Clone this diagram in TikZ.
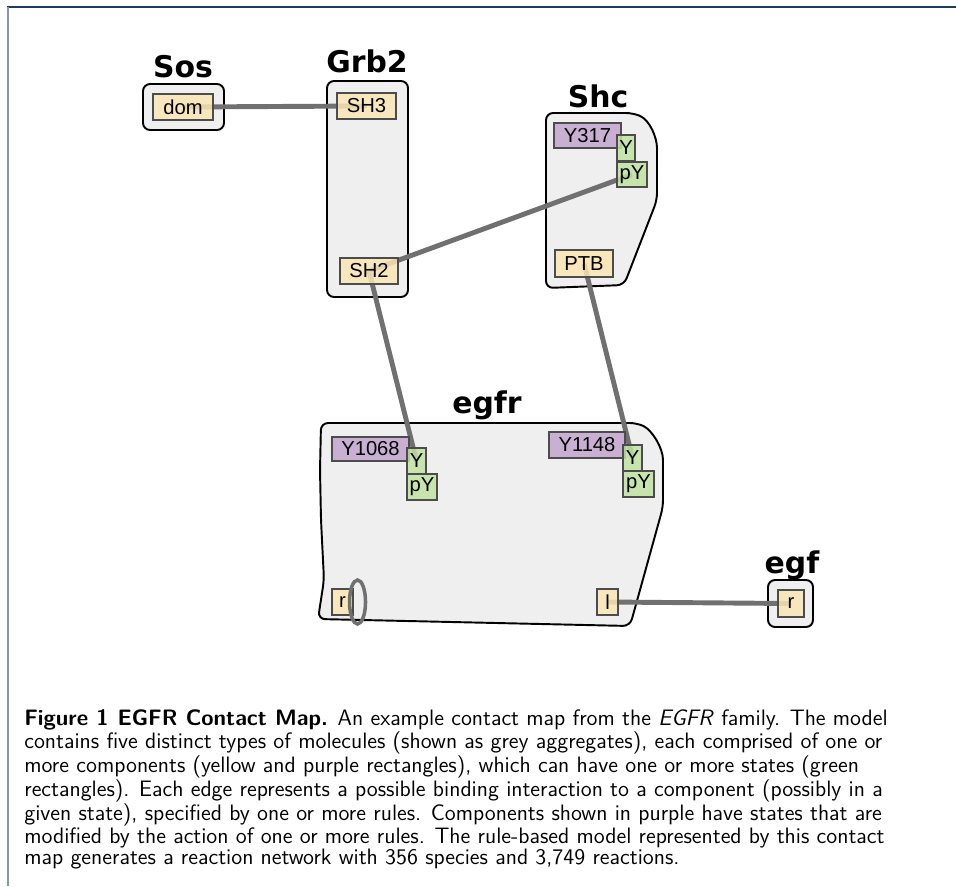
\documentclass[tikz,border=0pt]{standalone}
\usepackage{fontspec}
\newfontfamily\molfont{DejaVu Sans}
\newfontfamily\compfont{Liberation Sans}
\usetikzlibrary{backgrounds}
\pgfdeclarelayer{edgelayer}
\pgfsetlayers{background,edgelayer,main}
\definecolor{molgray}{HTML}{EFEFEF}
\definecolor{compyellow}{HTML}{FAE6B4}
\definecolor{comppurple}{HTML}{C3A6CF}
\definecolor{stategreen}{HTML}{BFE3A0}
\definecolor{edgegray}{HTML}{707070}
\definecolor{framedark}{HTML}{1F3A5F}
\definecolor{framelight}{HTML}{8497AE}

\tikzset{
  mol/.style={draw=black, line width=1.1pt, fill=molgray, rounded corners=4pt},
  molname/.style={font=\molfont\bfseries\fontsize{17pt}{20pt}\selectfont, anchor=base, inner sep=0pt},
  comp/.style={draw=black!70, line width=0.6pt, fill=compyellow, fill opacity=0.85, text opacity=1,
    font=\compfont\fontsize{11.5pt}{13pt}\selectfont, inner sep=0pt, minimum height=0.52cm},
  modcomp/.style={comp, fill=comppurple},
  state/.style={comp, fill=stategreen},
  bond/.style={edgegray, line width=2.8pt},
}

\begin{document}
\begin{tikzpicture}[x=0.02cm, y=-0.02cm]
    \useasboundingbox (0,0) rectangle (956,886);
    % Marco
    \draw[framedark, line width=1.2pt] (7,7) -- (956,7);
    \draw[framelight, line width=1.2pt] (8,7) -- (8,886);

    % Moleculas
    \begin{pgfonlayer}{background}
    \draw[mol] (143,84) rectangle (224,130);
    \draw[mol] (327,81) rectangle (408,297);
    \draw[mol] (546,150) -- (546,113) -- (633,113)
        .. controls (650,120) and (657,138) .. (657,155) -- (657,200)
        -- (624,285) -- (546,288) -- cycle;
    \draw[mol] (320,470) -- (321,423) -- (637,423)
        .. controls (652,430) and (663,448) .. (663,467) -- (663,507)
        -- (630,626) -- (318,619) -- (324,580) -- (321,520) -- cycle;
    \draw[mol] (768,580) rectangle (813,627);
    \end{pgfonlayer}

    % Nombres
    \node[molname] (sos) at (183,77) {Sos};
    \node[molname] (grb2) at (367,72) {Grb2};
    \node[molname] (shc) at (598,107) {Shc};
    \node[molname] (egfr) at (487,413) {egfr};
    \node[molname] (egf) at (792,573) {egf};

    % Componentes y estados
    \node[comp, minimum width=1.2cm] (dom) at (183,107) {dom};
    \node[comp, minimum width=1.18cm] (sh3) at (366.5,106) {SH3};
    \node[comp, minimum width=1.16cm] (sh2) at (369,271) {SH2};
    \node[modcomp, minimum width=1.34cm, minimum height=0.5cm] (y317) at (587.5,135.5) {Y317};
    \node[state, minimum width=0.36cm] (y317y) at (626,148) {Y};
    \node[state, minimum width=0.6cm, minimum height=0.5cm] (y317py) at (632,174.5) {pY};
    \node[comp, minimum width=1.16cm, minimum height=0.54cm] (ptb) at (584,263.5) {PTB};
    \node[modcomp, minimum width=1.54cm, minimum height=0.48cm] (y1068) at (370.5,449) {Y1068};
    \node[state, minimum width=0.38cm] (y1068y) at (416.5,461) {Y};
    \node[state, minimum width=0.6cm] (y1068py) at (422,487) {pY};
    \node[modcomp, minimum width=1.52cm] (y1148) at (587,445) {Y1148};
    \node[state, minimum width=0.38cm] (y1148y) at (632.5,458) {Y};
    \node[state, minimum width=0.62cm] (y1148py) at (638.5,484) {pY};
    \node[comp, minimum width=0.42cm] (r) at (342.5,602) {r};
    \node[comp, minimum width=0.42cm] (l) at (607.5,602) {l};
    \node[comp, minimum width=0.52cm, minimum height=0.54cm] (egfsite) at (791,603.5) {r};

    % Enlaces
    \begin{pgfonlayer}{edgelayer}
    \draw[bond] (dom.center) -- (sh3.center);
    \draw[bond] (sh2.center) -- (y317py.center);
    \draw[bond] (sh2.center) -- (y1068y.center);
    \draw[bond] (ptb.center) -- (y1148y.center);
    \draw[bond] (l.center) -- (egfsite.center);
    \end{pgfonlayer}
    \draw[bond, line width=2pt] ([xshift=0.08cm]r.east) ellipse [x radius=8, y radius=22];

    % Leyenda
    \node[anchor=north west, align=left, inner sep=0pt,
          font=\sffamily\fontsize{12.7pt}{12.0pt}\selectfont] (caption) at (24,709)
        {\textbf{Figure 1\hspace{0.4em}EGFR Contact Map.} An example contact map from the \textit{EGFR} family. The model\\
         contains five distinct types of molecules (shown as grey aggregates), each comprised of one or\\
         more components (yellow and purple rectangles), which can have one or more states (green\\
         rectangles). Each edge represents a possible binding interaction to a component (possibly in a\\
         given state), specified by one or more rules. Components shown in purple have states that are\\
         modified by the action of one or more rules. The rule-based model represented by this contact\\
         map generates a reaction network with 356 species and 3,749 reactions.};
\end{tikzpicture}
\end{document}
